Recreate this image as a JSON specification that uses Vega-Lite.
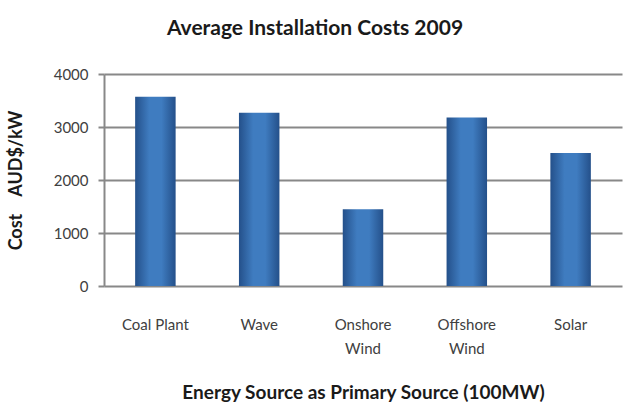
{
  "$schema": "https://vega.github.io/schema/vega-lite/v6.json",
  "width": 518,
  "height": 212,
  "autosize": {"type": "none"},
  "padding": {"left": 104, "top": 74, "right": 3, "bottom": 120},
  "background": "white",
  "title": {
    "text": "Average Installation Costs 2009",
    "font": "Lato",
    "fontSize": 21,
    "fontWeight": "bold",
    "color": "#1a1a1a",
    "anchor": "middle",
    "frame": "group",
    "dx": -48,
    "offset": 28
  },
  "data": {
    "values": [
      {"source": "Coal Plant", "cost": 3570},
      {"source": "Wave", "cost": 3270},
      {"source": "Onshore Wind", "cost": 1450},
      {"source": "Offshore Wind", "cost": 3180},
      {"source": "Solar", "cost": 2510}
    ]
  },
  "mark": {
    "type": "bar",
    "color": {
      "gradient": "linear",
      "x1": 0, "y1": 0, "x2": 1, "y2": 0,
      "stops": [
        {"offset": 0, "color": "#24508a"},
        {"offset": 0.35, "color": "#3f7cc0"},
        {"offset": 0.65, "color": "#3f7cc0"},
        {"offset": 1, "color": "#24508a"}
      ]
    }
  },
  "encoding": {
    "x": {
      "field": "source",
      "type": "nominal",
      "sort": null,
      "scale": {"paddingInner": 0.61, "paddingOuter": 0.3},
      "axis": {
        "title": "Energy Source as Primary Source (100MW)",
        "titleFont": "Lato",
        "titleFontSize": 19,
        "titleFontWeight": "bold",
        "titleColor": "#1a1a1a",
        "titlePadding": 27,
        "labelAngle": 0,
        "labelFont": "Lato",
        "labelFontSize": 15,
        "labelColor": "#404040",
        "labelPadding": 31,
        "labelLineHeight": 24,
        "labelExpr": "indexof(datum.label,'Wind')>0 ? split(datum.label,' ') : datum.label",
        "ticks": false,
        "domain": false
      }
    },
    "y": {
      "field": "cost",
      "type": "quantitative",
      "scale": {"domain": [0, 4000]},
      "axis": {
        "title": "Cost\u00a0\u00a0\u00a0 AUD$/kW",
        "titleFont": "Lato",
        "titleFontSize": 18,
        "titleFontWeight": "bold",
        "titleColor": "#1a1a1a",
        "titlePadding": 28,
        "values": [0, 1000, 2000, 3000, 4000],
        "format": "d",
        "labelFont": "Lato",
        "labelFontSize": 15,
        "labelColor": "#404040",
        "labelPadding": 10,
        "tickSize": 6,
        "tickColor": "#888888",
        "tickWidth": 2,
        "domainColor": "#888888",
        "domainWidth": 2,
        "gridColor": "#888888",
        "gridWidth": 2
      }
    }
  },
  "config": {"view": {"stroke": null}}
}
